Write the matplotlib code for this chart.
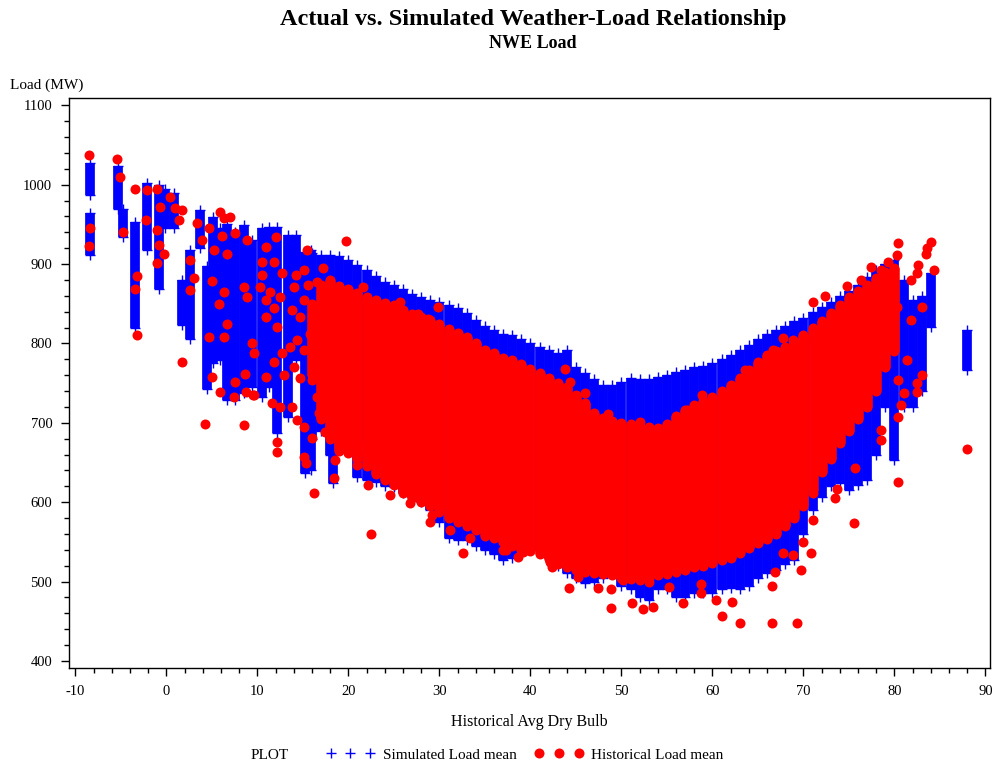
import numpy as np
import matplotlib
matplotlib.use("Agg")
import matplotlib.pyplot as plt
from matplotlib.lines import Line2D
from matplotlib.ticker import MultipleLocator

plt.rcParams['font.family'] = ['Liberation Serif', 'DejaVu Serif']
plt.rcParams['axes.unicode_minus'] = False

# simulated load: columns of '+' marks, one per temperature
sim_temp = [-8.4, -8.4, -5.3, -4.8, -3.5, -2.1, -0.8, -0.1, 0.8, 1.7, 2.6, 3.7, 4.5,
            5.1, 5.9, 6.7, 7.5, 8.5, 9.4, 10.5, 11.3, 12.2, 13.4, 14.2, 15.2, 15.9, 18.3,
            16, 17, 18, 19, 20, 21, 22, 23, 24, 25, 26, 27, 28, 29, 30, 31, 32, 33, 34,
            35, 36, 37, 38, 39, 40, 41, 42, 43, 44, 45, 46, 47, 48, 49, 50, 51, 52, 53,
            54, 55, 56, 57, 58, 59, 60, 61, 62, 63, 64, 65, 66, 67, 68, 69, 70, 71, 72,
            73, 74, 75, 76, 77, 78, 79, 80, 81, 82, 83, 84, 88]
sim_low = [987, 911, 970, 934, 820, 918, 869, 945, 945, 823, 806, 920, 743,
           775, 779, 729, 729, 737, 745, 733, 745, 687, 707, 779, 637, 640, 624,
           680, 690, 660, 680, 682, 632, 628, 625, 620, 619, 612, 607, 600, 590, 575,
           555, 552, 552, 545, 540, 535, 527, 530, 535, 540, 540, 530, 520, 511, 505,
           498, 500, 505, 511, 495, 490, 480, 477, 490, 490, 480, 481, 485, 486, 486,
           490, 492, 490, 495, 505, 511, 515, 522, 527, 560, 590, 607, 620, 624, 615,
           622, 628, 660, 720, 653, 720, 720, 740, 821, 767]
sim_high = [1027, 964, 1023, 970, 953, 1002, 1000, 995, 989, 880, 918, 968, 897,
            959, 945, 950, 940, 949, 930, 945, 947, 947, 936, 937, 915, 918, 666,
            914, 912, 912, 910, 905, 899, 893, 885, 878, 874, 868, 862, 858, 855, 852,
            848, 845, 838, 830, 822, 817, 812, 810, 806, 800, 795, 792, 788, 792, 770,
            763, 755, 748, 748, 752, 756, 755, 755, 758, 760, 764, 766, 770, 772, 775,
            780, 785, 792, 798, 805, 812, 817, 822, 828, 832, 840, 846, 852, 860, 866,
            873, 884, 893, 900, 905, 880, 855, 860, 889, 817]

# historical load: dense band per degree
hist_temp = list(range(16, 81))
hist_low = [760, 705, 680, 665, 662, 655, 645, 635, 628, 622, 612, 605, 600, 595, 588,
            580, 575, 570, 565, 558, 555, 550, 545, 540, 538, 535, 528, 522, 518, 515,
            512, 511, 510, 508, 505, 503, 502, 505, 508, 510, 512, 515, 518, 520, 523,
            527, 530, 536, 542, 548, 554, 560, 570, 580, 595, 615, 638, 655, 675, 690,
            705, 720, 740, 770, 790]
hist_high = [850, 874, 880, 872, 868, 863, 858, 855, 851, 848, 842, 837, 833, 830, 825,
             818, 813, 808, 800, 792, 788, 782, 779, 774, 768, 763, 757, 750, 745, 735,
             725, 712, 706, 702, 700, 698, 695, 695, 693, 698, 708, 716, 722, 728, 733,
             740, 748, 756, 766, 776, 785, 790, 796, 802, 810, 820, 828, 838, 848, 858,
             866, 874, 882, 890, 895]

# historical load: separate dots
dot_temp = [-8.5, -8.4, -8.5, -5.4, -5.1, -4.8, -3.5, -3.2, -3.5, -3.2, -2.1, -1.0, -2.2,
            0.4, 1.0, 1.7, 1.4, -0.7, -1.0, -0.8, -0.3, -1.0, 3.4, 3.9, 4.7, 2.6, 3.0,
            2.6, 1.7, 5.0, 4.2, 5.9, 6.3, 7.0, 6.1, 7.5, 5.2, 6.7, 5.0, 6.3, 5.8, 6.7,
            4.7, 6.3, 5.9, 7.4, 7.5, 8.6, 8.9, 8.5, 8.9, 9.4, 8.7, 9.5, 8.5,
            12.0, 10.9, 10.5, 11.8, 12.7, 10.5, 10.3, 11.4, 12.5, 10.9, 11.8, 10.9, 12.2,
            9.6, 12.7, 11.8, 10.9, 9.6, 12.9, 11.6, 12.5, 12.2, 12.2, 13.8, 14.0, 13.6,
            14.3, 13.8, 14.0, 14.2, 15.5, 15.1, 15.6, 15.1, 14.7, 15.1, 14.7, 16.0, 14.3,
            15.1, 16.0, 15.1, 15.3, 16.2, 18.5, 18.4, 19.7,
            16.6, 16.3, 17.2, 16.5, 16.8, 17.4, 15.8, 16.4,
            22.5, 32.6, 37.0, 44.2, 48.8, 51.2, 52.4, 53.5, 47.4, 48.8, 24.6, 26.8, 29.0,
            31.2, 21.0, 42.2, 39.2, 29.8, 27.6, 28.8, 21.6, 25.7, 43.8, 46.0, 44.4,
            52.0, 48.5, 19.5, 20.8, 21.9, 22.2, 26.8, 29.2, 33.4, 37.3, 38.6, 42.4,
            45.2, 50.2, 53.0,
            80.4, 80.3, 84.0, 83.6, 83.5, 82.6, 82.5, 84.3, 81.8, 79.3, 78.5, 77.4,
            76.3, 74.8, 72.4, 71.1, 83.0, 81.8, 80.3, 81.4, 80.4, 83.0, 82.5, 82.5,
            81.0, 80.7, 80.4, 88.0, 80.4, 75.5, 78.5, 78.5, 73.5, 73.7, 75.7, 71.0,
            71.1, 69.7, 69.3, 66.5, 63.0, 61.1, 62.1, 66.5, 66.9, 67.7, 68.8, 70.0,
            70.8, 56.8, 58.7, 58.7, 55.2, 60.4, 63.6, 62.0, 58.9, 57.2, 67.7, 68.8, 66.7]
dot_load = [1038, 945, 923, 1032, 1010, 941, 994, 885, 869, 811, 993, 995, 955,
            985, 971, 968, 956, 972, 943, 924, 913, 901, 952, 930, 946, 905, 882,
            867, 777, 758, 699, 966, 958, 959, 935, 939, 918, 913, 879, 865, 850, 825,
            808, 808, 739, 733, 752, 761, 930, 871, 859, 800, 739, 735, 697,
            934, 921, 903, 903, 889, 886, 871, 865, 858, 855, 845, 833, 821,
            788, 788, 777, 758, 735, 760, 725, 720, 676, 663, 720, 770, 795,
            804, 842, 871, 886, 918, 892, 874, 855, 833, 792, 756, 754, 703,
            695, 681, 657, 649, 611, 653, 630, 929,
            878, 820, 895, 732, 712, 688, 812, 780,
            560, 536, 540, 492, 467, 473, 465, 468, 492, 491, 609, 599, 575,
            565, 647, 525, 537, 846, 837, 831, 871, 852, 768, 738, 751,
            701, 711, 703, 695, 670, 622, 622, 584, 555, 540, 531, 518,
            506, 502, 500,
            926, 911, 928, 920, 913, 899, 889, 892, 880, 903, 892, 896,
            880, 872, 860, 852, 846, 829, 846, 779, 754, 760, 750, 739,
            738, 722, 707, 667, 625, 574, 678, 691, 605, 617, 643, 611,
            578, 515, 448, 448, 448, 456, 474, 494, 512, 536, 533, 550,
            536, 473, 486, 497, 493, 477, 766, 737, 735, 716, 807, 804, 792]

blue = '#0000ff'
red = '#ff0000'

fig = plt.figure(figsize=(9.94, 7.67), dpi=100)
ax = fig.add_axes([0.0694, 0.129, 0.9266, 0.743])

# simulated columns
ax.vlines(sim_temp, sim_low, sim_high, colors=blue, linewidth=7.0, zorder=2)
ax.plot(sim_temp + sim_temp, sim_low + sim_high, linestyle='none', marker='+',
        color=blue, markersize=7, markeredgewidth=1.0, zorder=2)

# historical band and dots
ax.vlines(hist_temp, hist_low, hist_high, colors=red, linewidth=7.6, zorder=3)
ax.plot(hist_temp + hist_temp, hist_low + hist_high, linestyle='none', marker='o',
        color=red, markersize=7.2, markeredgewidth=0, zorder=3)
ax.plot(dot_temp, dot_load, linestyle='none', marker='o', color=red,
        markersize=7.2, markeredgewidth=0, zorder=4)

ax.set_xlim(-10.7, 90.5)
ax.set_ylim(391, 1109)
ax.xaxis.set_major_locator(MultipleLocator(10))
ax.xaxis.set_minor_locator(MultipleLocator(2))
ax.yaxis.set_major_locator(MultipleLocator(100))
ax.yaxis.set_minor_locator(MultipleLocator(20))
ax.tick_params(which='major', direction='out', length=6, width=1, labelsize=10.5, pad=6)
ax.tick_params(which='minor', direction='out', length=3.5, width=1)
for s in ax.spines.values():
    s.set_linewidth(1.0)
    s.set_color('black')

ax.set_xlabel('Historical Avg Dry Bulb', fontsize=11.5, labelpad=12)
fig.text(0.010, 0.889, 'Load (MW)', fontsize=11, ha='left', va='center')

fig.text(0.536, 0.975, 'Actual vs. Simulated Weather-Load Relationship',
         fontsize=17.5, fontweight='bold', ha='center', va='center')
fig.text(0.536, 0.943, 'NWE Load', fontsize=13, fontweight='bold',
         ha='center', va='center')

# legend row
fig.text(0.252, 0.015, 'PLOT', fontsize=11, ha='left', va='center')
handles = [Line2D([], [], linestyle='none', marker='+', color=blue, markersize=7,
                  markeredgewidth=1.0),
           Line2D([], [], linestyle='none', marker='o', color=red, markersize=7.2,
                  markeredgewidth=0)]
fig.legend(handles, ['Simulated Load mean', 'Historical Load mean'], ncol=2,
           numpoints=3, handlelength=3.2, handletextpad=0.5, columnspacing=1.2,
           frameon=False, fontsize=11, loc='center', bbox_to_anchor=(0.528, 0.016))

fig.savefig('out.png', dpi=100)
